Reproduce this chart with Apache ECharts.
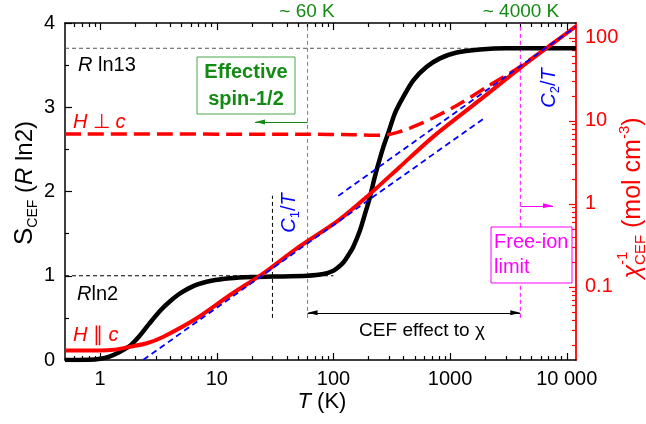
<!DOCTYPE html>
<html>
<head>
<meta charset="utf-8">
<title>CEF entropy and inverse susceptibility</title>
<script src="https://cdn.jsdelivr.net/npm/echarts@6/dist/echarts.min.js"></script>
<style>
  html, body { margin: 0; padding: 0; background: #ffffff; }
  #chart { width: 646px; height: 424px; }
</style>
</head>
<body>
<div id="chart"></div>
<script>
// ---------------- data ----------------
// Magnetic entropy S_CEF (units of R ln2) versus temperature T (K)
const entropyT = [0.5, 0.8, 1.0, 1.2, 1.4, 1.6, 1.81, 2.1, 2.6, 3.3, 4.0, 4.85, 6.5, 9, 13, 20, 30, 60, 82, 100,
                  110, 122, 135, 148, 169, 187, 206, 223, 243, 268, 296, 337, 398, 484, 630, 819, 1140, 1804, 3000, 12000];
const entropyS = [0, 0.003, 0.015, 0.04, 0.08, 0.125, 0.17, 0.26, 0.42, 0.59, 0.70, 0.79, 0.885, 0.94, 0.97, 0.985, 0.99, 1.0, 1.02, 1.06,
                  1.1, 1.16, 1.25, 1.345, 1.54, 1.74, 1.94, 2.14, 2.33, 2.53, 2.70, 2.93, 3.125, 3.32, 3.48, 3.58, 3.65, 3.685, 3.70, 3.70];

// Inverse CEF susceptibility (mol cm^-3), field parallel to c
const chiParT = [0.5, 1.0, 1.3, 1.81, 2.51, 3.49, 6.74, 13, 25.1, 48.5, 106.7, 193, 372, 718, 1804, 3973, 12000];
const chiParV = [0.0172, 0.0172, 0.0175, 0.0191, 0.021, 0.0252, 0.042, 0.080, 0.146, 0.292, 0.612, 1.22, 2.81, 6.47, 17.9, 43.2, 138];

// Inverse CEF susceptibility (mol cm^-3), field perpendicular to c
const chiPerpT = [0.5, 60, 150, 250, 305, 372, 453, 552, 718, 1140, 2052, 3973, 12000];
const chiPerpV = [6.95, 6.9, 6.8, 6.7, 6.9, 7.45, 8.2, 9.2, 10.9, 15.3, 25.5, 45, 138];

// Curie-law asymptotes C1/T (low T) and C2/T (high T), end points
const curie1T = [2.35, 2000];
const curie1V = [0.0133, 11];
const curie2T = [110, 12000];
const curie2V = [1.25, 137];

// Guide lines (T in K, S in R ln2)
const rln13T = [0.5, 12000], rln13S = [3.70, 3.70];
const rln2T = [0.5, 100], rln2S = [1, 1];
const c1MarkT = [30, 30], c1MarkS = [0.5, 1.95];
const spinLimitT = [60, 60], spinLimitS = [0.5, 4];
const freeIonT = [4000, 4000], freeIonS = [0.5, 4];

// Arrows: temperature span and level (S)
const cefArrowT = [60, 4000], cefArrowS = 0.56;
const spinArrowT = [60, 21.3], spinArrowS = 2.825;
const freeArrowT = [4000, 7620], freeArrowS = 1.83;

// Axis ticks
const xTickValues = [1, 10, 100, 1000, 10000];
const xTickLabels = ['1', '10', '100', '1000', '10 000'];
const chiTickValues = [0.1, 1, 10, 100];
const chiTickLabels = ['0.1', '1', '10', '100'];

// ---------------- drawing ----------------
const FONT = "'Liberation Sans', Arial, Helvetica, sans-serif";
const RED = '#ff0000', BLUE = '#0000ff', MAGENTA = '#ff00ff';
const GREEN_TXT = '#138a13', GREEN_LINE = '#49a849';
const X_MIN = 0.5, X_MAX = 12000, CHI_MIN = 0.0132, CHI_MAX = 151;

const zip = (a, b) => a.map((v, i) => [v, b[i]]);

// intermediate log ticks 2..9 x 10^n inside (lo, hi)
function logMinors(lo, hi) {
  const out = [];
  for (let e = -3; e <= 5; e++) {
    for (let m = 2; m <= 9; m++) {
      const v = +(m * Math.pow(10, e)).toPrecision(3);
      if (v > lo && v < hi) out.push(v);
    }
  }
  return out;
}
const xMinor = logMinors(X_MIN, X_MAX);
const chiMinor = logMinors(CHI_MIN, CHI_MAX);

function labelFor(values, labels) {
  return v => {
    const i = values.findIndex(t => Math.abs(Math.log10(t) - Math.log10(v)) < 1e-6);
    return i >= 0 ? labels[i] : '';
  };
}

function logX(pos, major, showLabel) {
  return {
    type: 'log', logBase: 10, min: X_MIN, max: X_MAX, position: pos,
    axisLine: { show: major, onZero: false, lineStyle: { color: '#000', width: 1.5 } },
    axisTick: { inside: true, length: major ? 7 : 4, customValues: major ? xTickValues : xMinor,
                lineStyle: { color: '#000', width: 1.2 } },
    axisLabel: showLabel ? { customValues: xTickValues, fontSize: 20, fontFamily: FONT, color: '#000', margin: 9,
                             formatter: labelFor(xTickValues, xTickLabels) } : { show: false },
    splitLine: { show: false }
  };
}

function logChi(major) {
  return {
    type: 'log', logBase: 10, min: CHI_MIN, max: CHI_MAX, position: 'right',
    axisLine: { show: major, onZero: false, lineStyle: { color: RED, width: 1.8 } },
    axisTick: { inside: true, length: major ? 7 : 4, customValues: major ? chiTickValues : chiMinor,
                lineStyle: { color: RED, width: 1.2 } },
    axisLabel: major ? { customValues: chiTickValues, fontSize: 20, fontFamily: FONT, color: RED, margin: 9,
                         formatter: labelFor(chiTickValues, chiTickLabels) } : { show: false },
    splitLine: { show: false }
  };
}

function lineSeries(T, V, yIdx, style, z, smooth) {
  return {
    type: 'line', xAxisIndex: 0, yAxisIndex: yIdx, data: zip(T, V), showSymbol: false, symbol: 'none',
    smooth: smooth || false, lineStyle: style, z: z, silent: true, animation: false
  };
}

function arrowSeries(T, S, color, bothEnds) {
  const head = { symbol: 'triangle', symbolSize: [5, 10], symbolOffset: [0, 5] };
  return {
    type: 'line', xAxisIndex: 0, yAxisIndex: 0, data: [[T[0], S]], symbol: 'none', showSymbol: false,
    lineStyle: { width: 0 }, silent: true, z: 7, animation: false,
    markLine: {
      silent: true, animation: false, label: { show: false }, symbol: ['none', 'none'],
      lineStyle: { color: color, width: 1.2, type: 'solid' },
      emphasis: { disabled: true },
      data: [[
        Object.assign({ coord: [T[0], S] }, bothEnds ? head : { symbol: 'none' }),
        Object.assign({ coord: [T[1], S] }, head)
      ]]
    }
  };
}

const chart = echarts.init(document.getElementById('chart'), null, { renderer: 'canvas' });

// text measurement for the stacked super/subscript of the right axis title
const measureCtx = document.createElement('canvas').getContext('2d');
function textWidth(str, size, style) {
  measureCtx.font = (style ? style + ' ' : '') + size + 'px ' + FONT;
  return measureCtx.measureText(str).width;
}
const rtMain = 25, rtSmall = 15;
const rtChiW = textWidth('χ', rtMain, 'italic');
const rtTotal = rtChiW + textWidth('CEF', rtSmall) + textWidth(' (mol cm', rtMain) + textWidth('-3', rtSmall) + textWidth(')', rtMain);

const subRich = (main, small, color, extra) => Object.assign({
  m: { fontSize: main, fontFamily: FONT, fill: color, lineHeight: main + 6 },
  i: { fontSize: main, fontFamily: FONT, fill: color, fontStyle: 'italic', lineHeight: main + 6 },
  sub: { fontSize: small, fontFamily: FONT, fill: color, lineHeight: small + 1, verticalAlign: 'bottom' },
  sup: { fontSize: small, fontFamily: FONT, fill: color, lineHeight: small + 1, verticalAlign: 'top' }
}, extra || {});

function txt(x, y, text, opts) {
  return {
    type: 'text', x: x, y: y, rotation: opts.rotation || 0, silent: true, z: 20,
    style: {
      text: text, fontSize: opts.size, fontFamily: FONT, fill: opts.color || '#000',
      fontWeight: opts.weight || 'normal', align: opts.align || 'left', verticalAlign: 'middle',
      lineHeight: opts.lineHeight, rich: opts.rich
    }
  };
}

const option = {
  backgroundColor: '#ffffff',
  animation: false,
  grid: { left: 65, right: 70, top: 23, bottom: 64 },
  xAxis: [
    logX('bottom', true, true),
    logX('bottom', false, false),
    logX('top', true, false),
    logX('top', false, false)
  ],
  yAxis: [
    {
      type: 'value', min: 0, max: 4, interval: 1, position: 'left',
      axisLine: { show: true, onZero: false, lineStyle: { color: '#000', width: 1.5 } },
      axisTick: { inside: true, length: 7, lineStyle: { color: '#000', width: 1.2 } },
      minorTick: { show: true, splitNumber: 2, length: 4, lineStyle: { color: '#000', width: 1.2 } },
      axisLabel: { fontSize: 20, fontFamily: FONT, color: '#000', margin: 10 },
      splitLine: { show: false }, minorSplitLine: { show: false }
    },
    logChi(true),
    logChi(false)
  ],
  series: [
    // guide lines
    lineSeries(rln13T, rln13S, 0, { color: '#555', width: 1, type: [4, 3] }, 2),
    lineSeries(rln2T, rln2S, 0, { color: '#000', width: 1, type: [4, 3] }, 2),
    lineSeries(c1MarkT, c1MarkS, 0, { color: '#000', width: 1, type: [4, 3] }, 2),
    lineSeries(spinLimitT, spinLimitS, 0, { color: GREEN_LINE, width: 1, type: [4, 3] }, 2),
    lineSeries(freeIonT, freeIonS, 0, { color: MAGENTA, width: 1, type: [4, 3] }, 2),
    // entropy
    lineSeries(entropyT, entropyS, 0, { color: '#000', width: 4.5 }, 3, 0.3),
    // inverse susceptibility
    lineSeries(chiPerpT, chiPerpV, 1, { color: RED, width: 3.5, type: [16, 7] }, 4, 0.3),
    lineSeries(chiParT, chiParV, 1, { color: RED, width: 4 }, 5, 0.25),
    // Curie-law asymptotes
    lineSeries(curie1T, curie1V, 1, { color: BLUE, width: 1.8, type: [6, 4] }, 6),
    lineSeries(curie2T, curie2V, 1, { color: BLUE, width: 1.8, type: [6, 4] }, 6),
    // arrows
    arrowSeries(cefArrowT, cefArrowS, '#000', true),
    arrowSeries(spinArrowT, spinArrowS, GREEN_TXT, false),
    arrowSeries(freeArrowT, freeArrowS, MAGENTA, false)
  ],
  graphic: [
    // axis titles
    txt(322, 402, '{i|T}{m| (K)}', { size: 22, align: 'center', rich: subRich(22, 14, '#000') }),
    txt(25, 183, '{s|S}{sub|CEF}{m| (}{i|R}{m| ln2)}', {
      size: 24, align: 'center', rotation: Math.PI / 2,
      rich: subRich(24, 14, '#000', { s: { fontSize: 26, fontFamily: FONT, fill: '#000', lineHeight: 30 } })
    }),
    {
      type: 'group', x: 633, y: 198, rotation: Math.PI / 2, silent: true,
      children: [
        {
          type: 'text', x: -rtTotal / 2, y: 0, z: 20,
          style: { text: '{i|χ}{sub|CEF}{m| (mol cm}{sup|-3}{m|)}', fontSize: rtMain, fontFamily: FONT, fill: RED,
                   align: 'left', verticalAlign: 'middle', rich: subRich(rtMain, rtSmall, RED) }
        },
        {
          type: 'text', x: -rtTotal / 2 + rtChiW, y: -10, z: 20,
          style: { text: '-1', fontSize: rtSmall, fontFamily: FONT, fill: RED, align: 'left', verticalAlign: 'middle' }
        }
      ]
    },
    // temperature scales
    txt(307, 12, '~ 60 K', { size: 19, align: 'center', color: GREEN_TXT }),
    txt(521, 12, '~ 4000 K', { size: 19, align: 'center', color: GREEN_TXT }),
    // entropy levels
    txt(78, 65, '{i|R}{m| ln13}', { size: 20, rich: subRich(20, 13, '#000') }),
    txt(77, 294, '{i|R}{m|ln2}', { size: 20, rich: subRich(20, 13, '#000') }),
    // field directions
    txt(73, 122, '{i|H}{m| ⊥ }{i|c}', { size: 20, rich: subRich(20, 13, RED) }),
    txt(73, 335, '{i|H}{m| ∥ }{i|c}', { size: 20, rich: subRich(20, 13, RED) }),
    // Curie constants
    txt(289, 213, '{i|C}{sub|1}{m|/}{i|T}', { size: 20, align: 'center', rotation: Math.PI / 2, rich: subRich(20, 13, BLUE) }),
    txt(549, 88, '{i|C}{sub|2}{m|/}{i|T}', { size: 20, align: 'center', rotation: Math.PI / 2, rich: subRich(20, 13, BLUE) }),
    // boxed notes
    { type: 'rect', shape: { x: 197, y: 57, width: 98, height: 57 }, silent: true, z: 19,
      style: { fill: '#ffffff', stroke: GREEN_LINE, lineWidth: 1 } },
    txt(246, 86, 'Effective\nspin-1/2', { size: 20, weight: 'bold', align: 'center', color: GREEN_TXT, lineHeight: 27 }),
    { type: 'rect', shape: { x: 491, y: 227, width: 81, height: 56 }, silent: true, z: 19,
      style: { fill: '#ffffff', stroke: MAGENTA, lineWidth: 1 } },
    txt(494, 255, 'Free-ion\nlimit', { size: 20, color: MAGENTA, lineHeight: 24.5 }),
    txt(422, 331, 'CEF effect to χ', { size: 19, align: 'center' })
  ]
};

chart.setOption(option);
</script>
</body>
</html>
